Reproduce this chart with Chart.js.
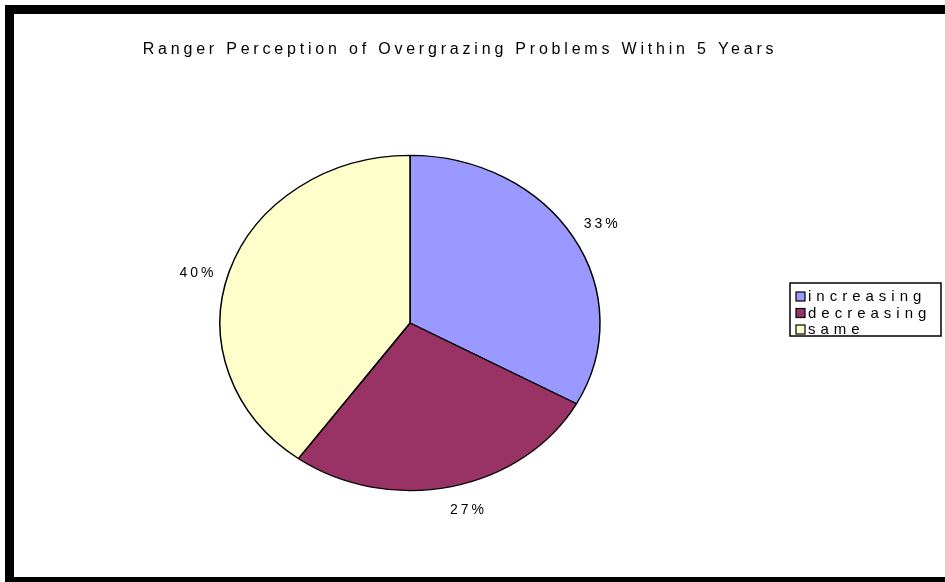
<!DOCTYPE html>
<html>
<head>
<meta charset="utf-8">
<script src="https://cdn.jsdelivr.net/npm/chart.js@4.4.1/dist/chart.umd.min.js"></script>
<style>
  html, body { margin: 0; padding: 0; background: #fff; }
  canvas { display: block; }
</style>
</head>
<body>
<canvas id="pie" width="945" height="582"></canvas>
<script>
const titleText = 'Ranger Perception of Overgrazing Problems Within 5 Years'
const categories = ['increasing', 'decreasing', 'same']
const shares = [33, 27, 40]
const sliceColors = ['#9999FF', '#993366', '#FFFFCC']

const squash = 0.882   // pie is drawn a bit wider than tall
const font = '"Liberation Sans", Arial, sans-serif'

const ctx = document.getElementById('pie')

// squash the pie vertically around its centre
const ellipsePlugin = {
  id: 'ellipse',
  beforeDatasetsDraw(chart) {
    const a = chart.chartArea
    const cx = (a.left + a.right) / 2
    const cy = (a.top + a.bottom) / 2
    const c = chart.ctx
    c.save()
    c.translate(cx, cy)
    c.scale(1, squash)
    c.translate(-cx, -cy)
  },
  afterDatasetsDraw(chart) {
    chart.ctx.restore()
  }
}

const decorPlugin = {
  id: 'decor',
  beforeDraw(chart) {
    const c = chart.ctx
    c.save()
    c.fillStyle = '#fff'
    c.fillRect(0, 0, chart.width, chart.height)
    c.restore()
  },
  afterDraw(chart) {
    const c = chart.ctx
    const a = chart.chartArea
    const cx = (a.left + a.right) / 2
    const cy = (a.top + a.bottom) / 2
    c.save()

    // title
    c.fillStyle = '#000'
    c.font = '16px ' + font
    c.letterSpacing = '3.8px'
    c.textAlign = 'center'
    c.textBaseline = 'middle'
    c.fillText(titleText, 460, 50)

    // percent labels outside the slices
    c.font = '14px ' + font
    c.letterSpacing = '3px'
    const meta = chart.getDatasetMeta(0)
    meta.data.forEach((arc, i) => {
      const mid = (arc.startAngle + arc.endAngle) / 2 - 0.03
      const r = 224
      const x = cx + r * Math.cos(mid)
      const y = cy + r * squash * 0.96 * Math.sin(mid)
      c.fillText(shares[i] + '%', x + 3, y + 3)
    })

    // legend box
    c.lineWidth = 1.5
    c.strokeStyle = '#000'
    c.fillStyle = '#fff'
    c.fillRect(790, 283, 151, 53)
    c.strokeRect(790, 283, 151, 53)
    c.textAlign = 'left'
    c.font = '15px ' + font
    c.letterSpacing = '5px'
    categories.forEach((name, i) => {
      const y = 297 + i * 16.5
      c.fillStyle = sliceColors[i]
      c.fillRect(796, y - 5, 9, 9)
      c.lineWidth = 1.2
      c.strokeRect(796, y - 5, 9, 9)
      c.fillStyle = '#000'
      c.fillText(name, 808, y)
    })

    // outer frame (left, top, bottom)
    c.fillStyle = '#000'
    c.fillRect(5, 5, 940, 9)
    c.fillRect(5, 5, 9, 577)
    c.fillRect(5, 577, 940, 5)
    c.restore()
  }
}

new Chart(ctx, {
  type: 'pie',
  data: {
    labels: categories,
    datasets: [{
      data: shares,
      backgroundColor: sliceColors,
      borderColor: '#000',
      borderWidth: 1.5,
      radius: 190
    }]
  },
  options: {
    responsive: false,
    animation: false,
    layout: {
      padding: { top: 132, bottom: 68, left: 219, right: 344 }
    },
    plugins: {
      legend: { display: false },
      title: { display: false },
      tooltip: { enabled: false }
    }
  },
  plugins: [ellipsePlugin, decorPlugin]
})
</script>
</body>
</html>
